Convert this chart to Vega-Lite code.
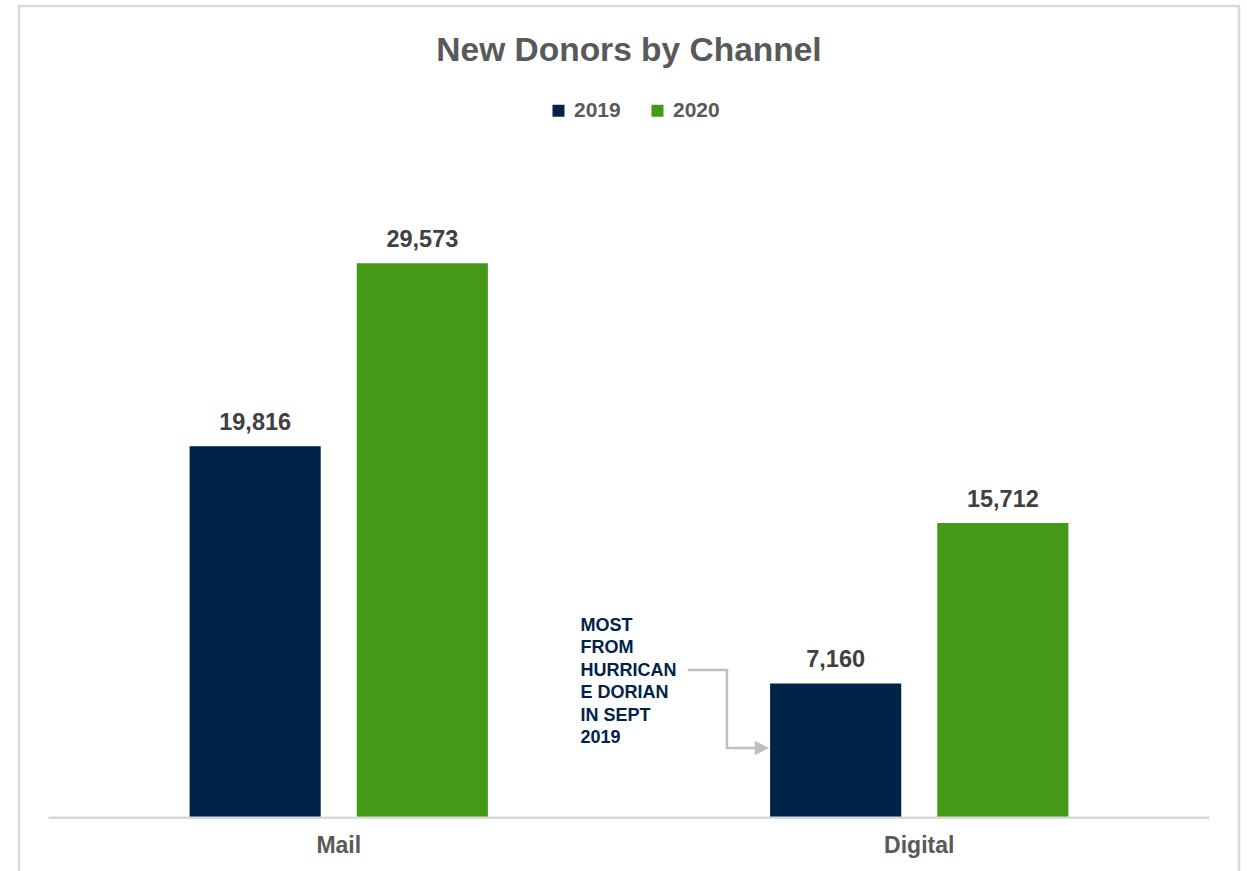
{
  "$schema": "https://vega.github.io/schema/vega-lite/v6.json",
  "autosize": {"type": "none"},
  "width": 1220,
  "height": 874,
  "padding": {"left": 19, "top": 6, "right": 8, "bottom": 0},
  "background": "white",
  "config": {
    "view": {"stroke": "#D9D9D9", "strokeWidth": 2.5},
    "font": "Liberation Sans"
  },
  "title": {
    "text": "New Donors by Channel",
    "font": "Liberation Sans",
    "fontSize": 33.5,
    "fontWeight": "bold",
    "color": "#595959",
    "anchor": "middle",
    "frame": "group",
    "offset": -62
  },
  "datasets": {
    "bars": [
      {"Channel": "Mail", "Year": "2019", "Donors": 19816},
      {"Channel": "Mail", "Year": "2020", "Donors": 29573},
      {"Channel": "Digital", "Year": "2019", "Donors": 7160},
      {"Channel": "Digital", "Year": "2020", "Donors": 15712}
    ],
    "channels": [{"Channel": "Mail"}, {"Channel": "Digital"}],
    "baseline": [{"from": "Mail", "to": "Digital", "Donors": 0}],
    "note": [{"Channel": "Digital", "Donors": 9957, "label": ["MOST", "FROM", "HURRICAN", "E DORIAN", "IN SEPT", "2019"]}],
    "arrow": [
      {"pos": 0.5482, "Donors": 7877, "order": 1},
      {"pos": 0.5803, "Donors": 7877, "order": 2},
      {"pos": 0.5803, "Donors": 3717, "order": 3},
      {"pos": 0.6040, "Donors": 3717, "order": 4}
    ],
    "arrowhead": [{"pos": 0.6090, "Donors": 3717}]
  },
  "resolve": {"scale": {"x": "independent"}},
  "layer": [
    {
      "layer": [
        {
          "data": {"name": "bars"},
          "mark": {"type": "bar"},
          "encoding": {
            "x": {
              "field": "Channel", "type": "nominal", "sort": ["Mail", "Digital"],
              "scale": {"domain": ["Mail", "Digital"], "paddingInner": 0, "paddingOuter": 0.0508},
              "axis": null
            },
            "xOffset": {
              "field": "Year", "type": "nominal",
              "scale": {"paddingInner": 0.2156, "paddingOuter": 0.844}
            },
            "y": {
              "field": "Donors", "type": "quantitative",
              "scale": {"domain": [-3322, 43288], "nice": false, "zero": false},
              "axis": null
            },
            "color": {
              "field": "Year", "type": "nominal",
              "scale": {"domain": ["2019", "2020"], "range": ["#002349", "#449A17"]},
              "legend": {
                "title": null, "orient": "none", "direction": "horizontal", "columns": 2,
                "legendX": 529, "legendY": 94, "padding": 0,
                "symbolType": "square", "symbolSize": 144, "symbolStrokeWidth": 0,
                "labelFont": "Liberation Sans", "labelFontSize": 21, "labelFontWeight": "bold",
                "labelColor": "#595959", "labelOffset": 5, "columnPadding": 26
              }
            }
          }
        },
        {
          "data": {"name": "bars"},
          "mark": {
            "type": "text", "baseline": "alphabetic", "dy": -16, "font": "Liberation Sans",
            "fontSize": 23.5, "fontWeight": "bold", "color": "#404040"
          },
          "encoding": {
            "x": {"field": "Channel", "type": "nominal", "sort": ["Mail", "Digital"], "scale": {"domain": ["Mail", "Digital"], "paddingInner": 0, "paddingOuter": 0.0508}, "axis": null},
            "xOffset": {"field": "Year", "type": "nominal", "scale": {"paddingInner": 0.2156, "paddingOuter": 0.844}},
            "y": {"field": "Donors", "type": "quantitative"},
            "text": {"field": "Donors", "type": "quantitative", "format": ","}
          }
        },
        {
          "data": {"name": "baseline"},
          "mark": {"type": "rule", "color": "#D9D9D9", "strokeWidth": 2.5},
          "encoding": {
            "x": {"field": "from", "type": "nominal", "bandPosition": 0, "scale": {"domain": ["Mail", "Digital"], "paddingInner": 0, "paddingOuter": 0.0508}, "axis": null},
            "x2": {"field": "to", "bandPosition": 1},
            "y": {"field": "Donors", "type": "quantitative"}
          }
        },
        {
          "data": {"name": "channels"},
          "mark": {
            "type": "text", "baseline": "alphabetic", "dy": 35.5, "font": "Liberation Sans",
            "fontSize": 23, "fontWeight": "bold", "color": "#595959"
          },
          "encoding": {
            "x": {"field": "Channel", "type": "nominal", "sort": ["Mail", "Digital"], "scale": {"domain": ["Mail", "Digital"], "paddingInner": 0, "paddingOuter": 0.0508}, "axis": null},
            "y": {"datum": 0, "type": "quantitative"},
            "text": {"field": "Channel"}
          }
        },
        {
          "data": {"name": "note"},
          "mark": {
            "type": "text", "align": "left", "baseline": "alphabetic", "dx": -48.5,
            "font": "Liberation Sans", "fontSize": 18, "fontWeight": "bold", "color": "#002349", "lineHeight": 22.4
          },
          "encoding": {
            "x": {"field": "Channel", "type": "nominal", "bandPosition": 0, "scale": {"domain": ["Mail", "Digital"], "paddingInner": 0, "paddingOuter": 0.0508}, "axis": null},
            "y": {"field": "Donors", "type": "quantitative"},
            "text": {"field": "label"}
          }
        }
      ]
    },
    {
      "layer": [
        {
          "data": {"name": "arrow"},
          "mark": {"type": "line", "color": "#BFBFBF", "strokeWidth": 2.5, "interpolate": "linear"},
          "encoding": {
            "x": {"field": "pos", "type": "quantitative", "scale": {"domain": [0, 1], "nice": false, "zero": false}, "axis": null},
            "y": {"field": "Donors", "type": "quantitative"},
            "order": {"field": "order", "type": "quantitative"}
          }
        },
        {
          "data": {"name": "arrowhead"},
          "mark": {"type": "point", "shape": "M-1,-1L1,0L-1,1Z", "size": 210, "filled": true, "color": "#BFBFBF", "opacity": 1, "strokeWidth": 0},
          "encoding": {
            "x": {"field": "pos", "type": "quantitative", "scale": {"domain": [0, 1], "nice": false, "zero": false}, "axis": null},
            "y": {"field": "Donors", "type": "quantitative"}
          }
        }
      ]
    }
  ]
}
